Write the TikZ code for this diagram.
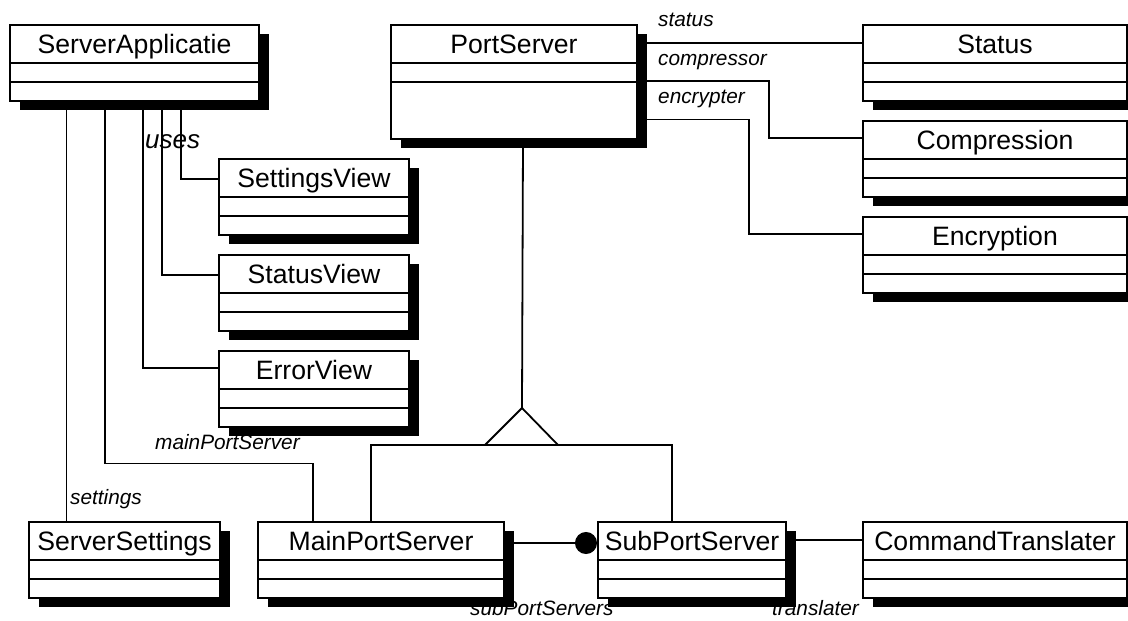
\documentclass[tikz,border=0pt]{standalone}
\usepackage{fontspec}
\setmainfont{Liberation Sans}
\usetikzlibrary{shadows,arrows.meta}
\pgfdeclarelayer{background}
\pgfsetlayers{background,main}
\tikzset{
  classbox/.style={draw, line width=2pt, fill=white, inner sep=0pt, anchor=north west,
    font=\fontsize{26.6}{30}\selectfont, text height=28.5pt,
    general shadow={fill=black, shadow xshift=10pt, shadow yshift=-8.5pt},
    path picture={\draw[line width=2pt]
      ([yshift=-38pt]path picture bounding box.north west) -- ([yshift=-38pt]path picture bounding box.north east)
      ([yshift=-57pt]path picture bounding box.north west) -- ([yshift=-57pt]path picture bounding box.north east);}},
  short/.style={text depth=47.5pt},
  tall/.style={text depth=85.5pt},
  role/.style={font=\itshape\fontsize{20.8}{24}\selectfont, inner sep=0pt, anchor=base west},
  conn/.style={line width=1.8pt},
}
\begin{document}
\begin{tikzpicture}[x=1pt,y=-1pt]
\useasboundingbox (0,0) rectangle (1128,621);
% classes
\node[classbox, short, minimum width=249pt] (SA) at (9,24) {ServerApplicatie};
\node[classbox, tall, minimum width=246pt] (PS) at (390,24) {PortServer};
\node[classbox, short, minimum width=264pt] (ST) at (862,24) {Status};
\node[classbox, short, minimum width=264pt] (CO) at (862,120) {Compression};
\node[classbox, short, minimum width=264pt] (EN) at (862,216) {Encryption};
\node[classbox, short, minimum width=190pt] (SV) at (218,158) {SettingsView};
\node[classbox, short, minimum width=190pt] (TV) at (218,254) {StatusView};
\node[classbox, short, minimum width=190pt] (EV) at (218,350) {ErrorView};
\node[classbox, short, minimum width=191pt] (SS) at (28,521) {ServerSettings};
\node[classbox, short, minimum width=246pt] (MP) at (257,521) {MainPortServer};
\node[classbox, short, minimum width=188pt] (SP) at (597,521) {SubPortServer};
\node[classbox, short, minimum width=264pt] (CT) at (862,521) {CommandTranslater};
% labels
\node[role] (lstatus) at (658,27) {status};
\node[role] (lcomp) at (658,65) {compressor};
\node[role] (lenc) at (658,103) {encrypter};
\node[role, font=\itshape\fontsize{26}{30}\selectfont] (luses) at (145,148) {uses};
\node[role] (lmain) at (155,449) {mainPortServer};
\node[role] (lset) at (70,504) {settings};
\node[role] (lsub) at (470,615.5) {subPortServers};
\node[role] (ltrans) at (772,615.5) {translater};
% generalization geometry
\coordinate (apex) at (522,408);
\coordinate (gL) at (371,445);
\coordinate (gR) at (672,445);
\begin{pgfonlayer}{background}
\draw[conn] ([xshift=57.5pt]SA.south west) -- ([xshift=38.5pt]SS.north west);
\draw[conn] ([xshift=96pt]SA.south west) |- ([xshift=56pt,yshift=57.5pt]MP.north west) -- ([xshift=56pt]MP.north west);
\draw[conn] ([xshift=134pt]SA.south west) |- ([yshift=-18.3pt]EV.north west);
\draw[conn] ([xshift=153pt]SA.south west) |- ([yshift=-21pt]TV.north west);
\draw[conn] ([xshift=172pt]SA.south west) |- ([yshift=-21.3pt]SV.north west);
\draw[conn] ([yshift=-19pt]PS.north east) -- ([yshift=-19pt]ST.north west);
\draw[conn] ([yshift=-57pt]PS.north east) -- ++(131,0) |- ([yshift=-18pt]CO.north west);
\draw[conn] ([yshift=-95.5pt]PS.north east) -- ++(111,0) |- ([yshift=-18pt]EN.north west);
\draw[conn] ([xshift=9pt]PS.south) -- (apex);
\draw[conn] (gL |- MP.north) -- (gL) -- (gR) -- (gR |- SP.north);
\draw[conn, -{Circle[length=22pt]}] ([yshift=-22pt]MP.north east) -- ([yshift=-22pt]SP.north west);
\draw[conn] ([yshift=-19pt]SP.north east) -- ([yshift=-19pt]CT.north west);
\end{pgfonlayer}
\draw[conn, fill=white, line join=miter] (apex) -- (485,445) -- (558,445) -- cycle;
\end{tikzpicture}
\end{document}
